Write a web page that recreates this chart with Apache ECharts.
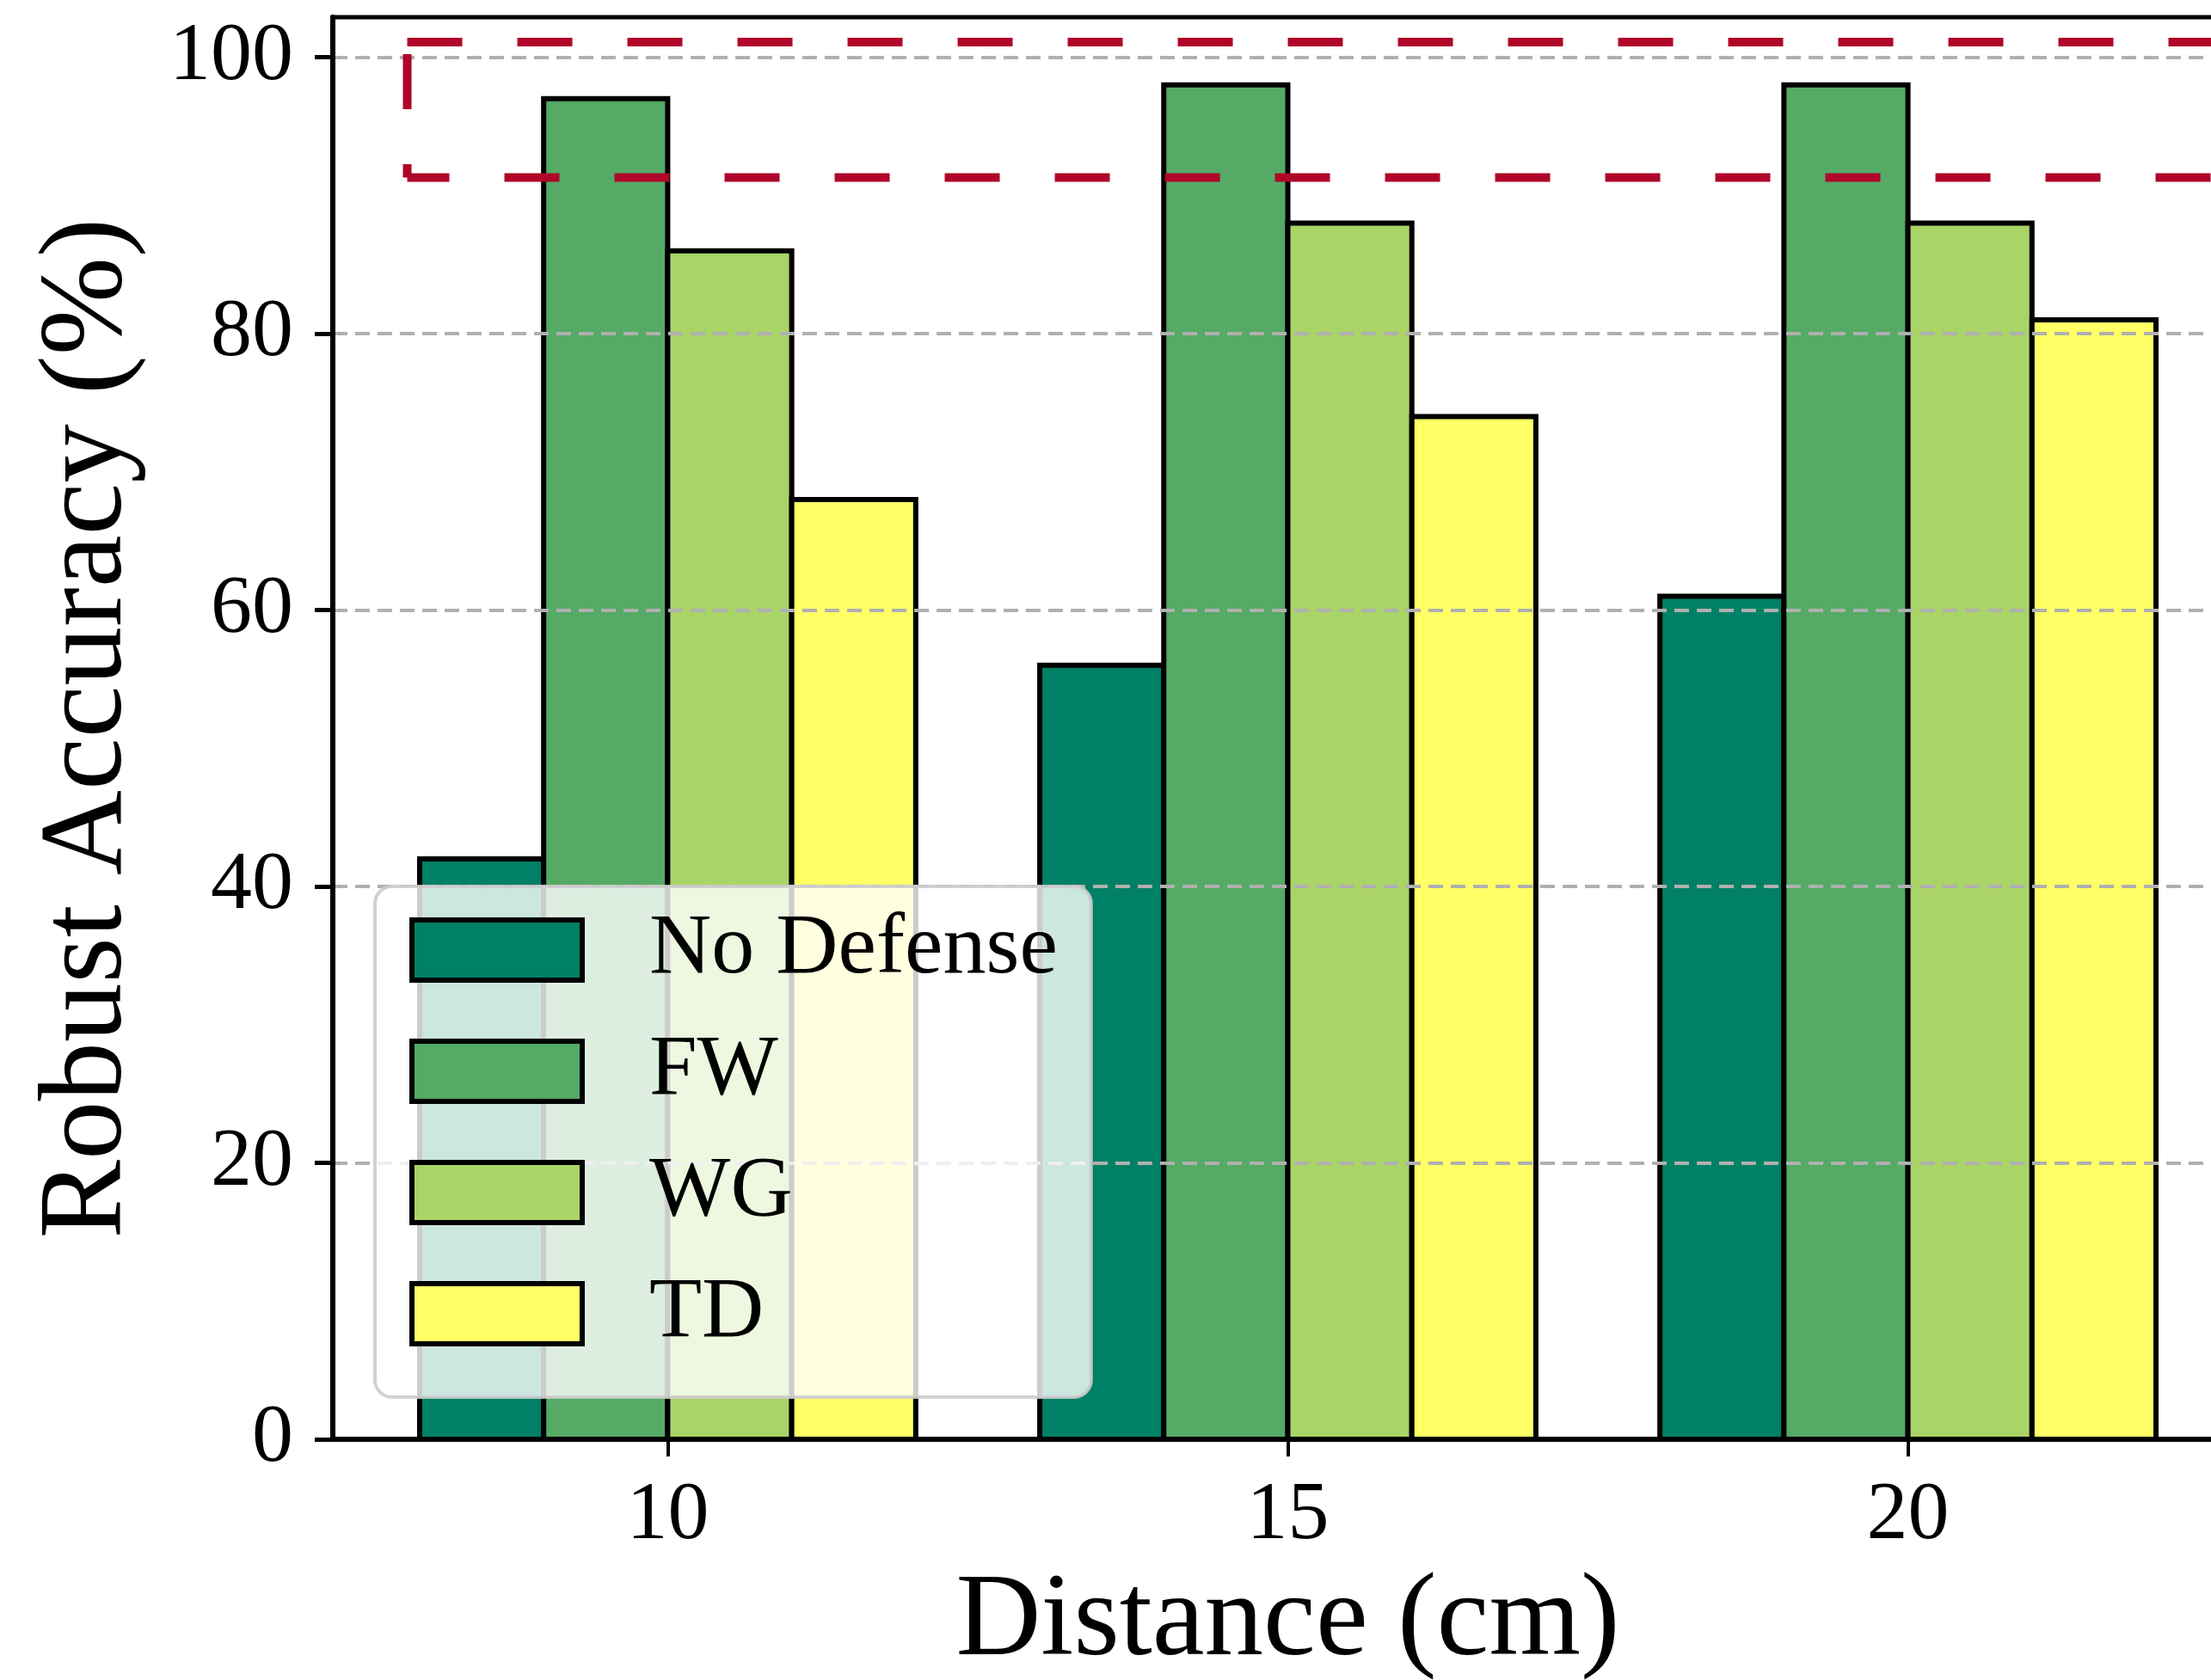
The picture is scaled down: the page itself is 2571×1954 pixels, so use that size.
<!DOCTYPE html>
<html>
<head>
<meta charset="utf-8">
<script src="https://cdn.jsdelivr.net/npm/echarts@6/dist/echarts.min.js"></script>
<style>
  html, body { margin: 0; padding: 0; background: #fff; overflow: hidden; }
  #chart { width: 2650px; height: 1954px; }
</style>
</head>
<body>
<div id="chart"></div>
<script>
// data
const distances = [10, 15, 20];
const seriesNames = ['No Defense', 'FW', 'WG', 'TD'];
const noDefense = [42, 56, 61];
const fw = [97, 98, 98];
const wg = [86, 88, 88];
const td = [68, 74, 81];
const yTicks = [0, 20, 40, 60, 80, 100];
// highlight box corners in data units (right side runs off the cropped figure)
const boxStart = [7.9, 91.3];
const boxEnd = [22.65, 101.1];

const colors = ['#008066', '#55aa66', '#aad466', '#ffff66'];
const offsets = [-1.5, -0.5, 0.5, 1.5];
const barW = 1;
const FONT = "'Liberation Serif', 'Times New Roman', serif";
const RED = '#b00629';

const chart = echarts.init(document.getElementById('chart'));

function makeRender(color) {
  return function (params, api) {
    const x = api.value(0);
    const v = api.value(1);
    const p0 = api.coord([x - barW / 2, v]);
    const p1 = api.coord([x + barW / 2, 0]);
    return {
      type: 'rect',
      shape: { x: p0[0], y: p0[1], width: p1[0] - p0[0], height: p1[1] - p0[1] },
      style: { fill: color, stroke: '#000', lineWidth: 6 }
    };
  };
}

const allValues = [noDefense, fw, wg, td];
const barSeries = seriesNames.map((name, i) => ({
  name: name,
  type: 'custom',
  renderItem: makeRender(colors[i]),
  itemStyle: { color: colors[i] },
  data: distances.map((d, j) => [d + offsets[i], allValues[i][j]]),
  z: 2
}));

// dashed box, each side with its own dash phase
function renderBox(params, api) {
  const bl = api.coord([api.value(0), api.value(1)]);
  const tr = api.coord([api.value(2), api.value(3)]);
  const seg = (a, b, off) => ({
    type: 'line',
    shape: { x1: a[0], y1: a[1], x2: b[0], y2: b[1] },
    style: { stroke: RED, lineWidth: 10, lineDash: [64, 64], lineDashOffset: off, lineCap: 'butt' }
  });
  return {
    type: 'group',
    children: [
      seg([bl[0], bl[1]], [tr[0], bl[1]], 15),
      seg([bl[0], tr[1]], [tr[0], tr[1]], 0),
      seg([bl[0], tr[1]], [bl[0], bl[1]], 114),
      seg([tr[0], tr[1]], [tr[0], bl[1]], 0)
    ]
  };
}

const option = {
  animation: false,
  backgroundColor: '#fff',
  grid: {
    left: 387, top: 20, right: 42, bottom: 280,
    show: true, borderColor: '#000', borderWidth: 5, backgroundColor: 'transparent',
    outerBoundsMode: 'none'
  },
  xAxis: {
    type: 'value',
    min: 7.3, max: 22.7,
    z: 3,
    name: 'Distance (cm)',
    nameLocation: 'middle',
    nameGap: 146,
    nameMoveOverlap: false,
    nameTextStyle: { fontFamily: FONT, fontSize: 137, color: '#000' },
    axisLine: { show: true, onZero: false, lineStyle: { color: '#000', width: 6 } },
    axisTick: { show: true, length: 20, customValues: distances, lineStyle: { color: '#000', width: 4 } },
    axisLabel: { customValues: distances, margin: 42, fontFamily: FONT, fontSize: 96, color: '#000' },
    splitLine: { show: false }
  },
  yAxis: {
    type: 'value',
    min: 0, max: 102.9, interval: 20,
    z: 3,
    name: 'Robust Accuracy (%)',
    nameLocation: 'middle',
    nameGap: 214,
    nameMoveOverlap: false,
    nameTextStyle: { fontFamily: FONT, fontSize: 137, color: '#000' },
    axisLine: { show: true, onZero: false, lineStyle: { color: '#000', width: 6 } },
    axisTick: { show: true, length: 21, customValues: yTicks, lineStyle: { color: '#000', width: 5 } },
    axisLabel: { customValues: yTicks, margin: 46, fontFamily: FONT, fontSize: 96, color: '#000' },
    splitLine: { show: true, lineStyle: { color: '#b0b0b0', width: 4, type: [17, 9] } }
  },
  legend: {
    orient: 'vertical',
    left: 436, top: 1031,
    z: 10,
    icon: 'rect',
    itemWidth: 198, itemHeight: 70, itemGap: 41,
    padding: [24, 39, 47, 40],
    backgroundColor: 'rgba(255,255,255,0.8)',
    borderColor: 'rgba(204,204,204,0.9)',
    borderWidth: 4,
    borderRadius: 20,
    textStyle: { fontFamily: FONT, fontSize: 100, color: '#000', padding: [0, 0, 0, 73] },
    data: seriesNames.map((n, i) => ({
      name: n,
      itemStyle: { color: colors[i], borderColor: '#000', borderWidth: 6 }
    }))
  },
  series: barSeries.concat([{
    name: 'box',
    type: 'custom',
    renderItem: renderBox,
    encode: { x: [0, 2], y: [1, 3] },
    data: [[boxStart[0], boxStart[1], boxEnd[0], boxEnd[1]]],
    silent: true,
    z: 4
  }])
};

chart.setOption(option);
</script>
</body>
</html>
